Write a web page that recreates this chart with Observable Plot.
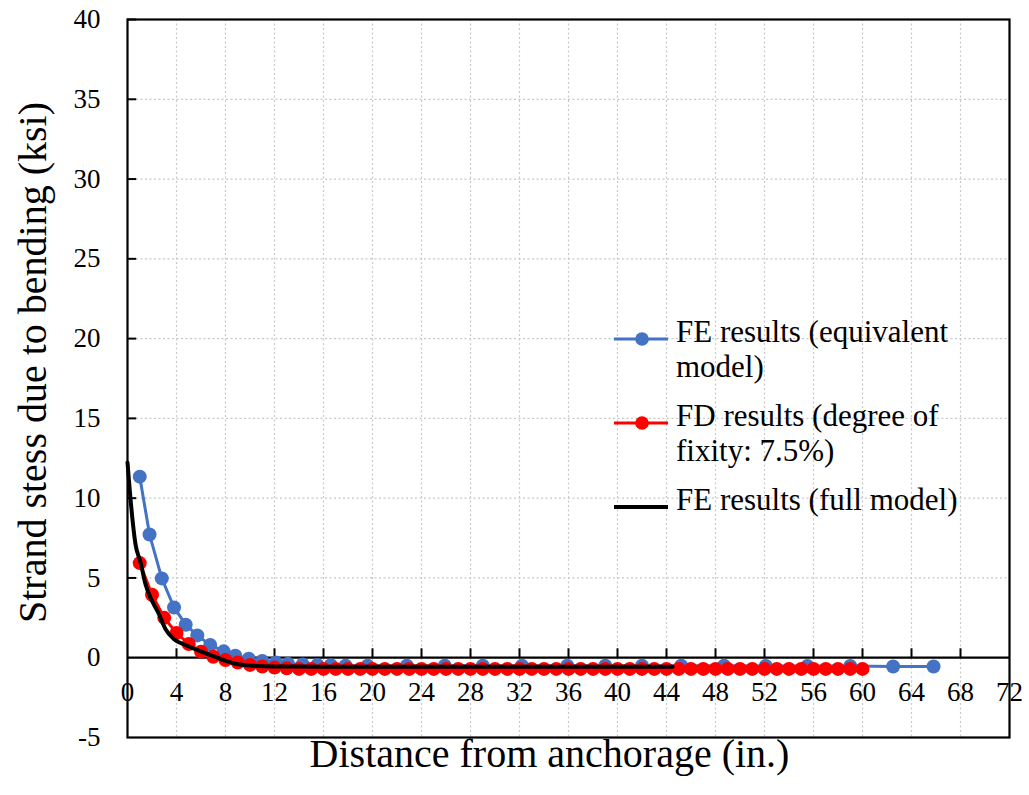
<!DOCTYPE html>
<html>
<head>
<meta charset="utf-8">
<script src="https://cdn.jsdelivr.net/npm/d3@7"></script>
<script src="https://cdn.jsdelivr.net/npm/@observablehq/plot@0.6"></script>
<style>
  body { margin: 0; background: #fff; }
  #wrap { position: relative; width: 1029px; height: 795px; font-family: "Liberation Serif", "Times New Roman", serif; }
  #legend { position: absolute; left: 612px; top: 314px; font-size: 31px; color: #000; line-height: 35px; }
  .item { display: flex; align-items: flex-start; margin-bottom: 14px; }
  .item svg { flex: none; margin-top: 3px; margin-right: 6px; }
</style>
</head>
<body>
<div id="wrap"></div>
<script>
// ---- data ----
const xTicks = [0, 4, 8, 12, 16, 20, 24, 28, 32, 36, 40, 44, 48, 52, 56, 60, 64, 68, 72];
const yTicks = [-5, 0, 5, 10, 15, 20, 25, 30, 35, 40];

// FE results (equivalent model)
const feEqX = [1.0, 1.8, 2.8, 3.8, 4.75, 5.7, 6.75, 7.85, 8.8, 9.9, 11.0, 12.1, 13.1, 14.3, 15.5, 16.6, 17.8, 19.6, 22.8, 25.9, 29.0, 32.2, 35.9, 39.0, 42.0, 45.2, 48.7, 52.1, 55.5, 59.0, 62.5, 65.8];
const feEqY = [11.35, 7.72, 4.97, 3.15, 2.07, 1.4, 0.8, 0.4, 0.12, -0.06, -0.2, -0.3, -0.38, -0.42, -0.45, -0.47, -0.5, -0.5, -0.5, -0.5, -0.5, -0.5, -0.5, -0.5, -0.5, -0.5, -0.5, -0.52, -0.52, -0.52, -0.55, -0.55];

// FD results (degree of fixity: 7.5%)
const fdX = d3.range(1, 61);
const fdY = [5.93, 3.95, 2.5, 1.55, 0.86, 0.38, 0.06, -0.15, -0.3, -0.45, -0.55, -0.62, -0.66,
  -0.7, -0.7, -0.7, -0.7, -0.7, -0.7, -0.7, -0.7, -0.7, -0.7, -0.7, -0.7, -0.7, -0.7, -0.7, -0.7, -0.7,
  -0.7, -0.7, -0.7, -0.7, -0.7, -0.7, -0.7, -0.7, -0.7, -0.7, -0.7, -0.7, -0.7, -0.7, -0.7, -0.7, -0.7,
  -0.7, -0.7, -0.7, -0.7, -0.7, -0.7, -0.7, -0.7, -0.7, -0.7, -0.7, -0.7, -0.7];

// FE results (full model)
const feFullX = [0, 0.3, 0.65, 1.06, 1.47, 2.0, 2.56, 3.1, 3.78, 4.87, 6.2, 7.6, 8.7, 9.5, 10.5, 12, 16, 20, 24, 28, 32, 36, 40, 44.5];
const feFullY = [12.24, 9.5, 7.12, 6.0, 4.6, 3.57, 2.74, 1.8, 1.17, 0.75, 0.33, -0.08, -0.36, -0.46, -0.52, -0.55, -0.56, -0.56, -0.56, -0.56, -0.56, -0.56, -0.56, -0.56];

const xTitle = "Distance from anchorage (in.)";
const yTitle = "Strand stess due to bending (ksi)";
const seriesNames = ["FE results (equivalent\nmodel)", "FD results (degree of\nfixity: 7.5%)", "FE results (full model)"];
const seriesColors = ["#4472C4", "#FF0000", "#000000"];

// ---- build tables ----
const feEq = feEqX.map((x, i) => ({x, y: feEqY[i]}));
const fd = fdX.map((x, i) => ({x, y: fdY[i]}));
const feFull = feFullX.map((x, i) => ({x, y: feFullY[i]}));

const font = "Liberation Serif, Times New Roman, serif";
const gridX = xTicks.filter(d => d > 0 && d < 72);
const gridY = yTicks.filter(d => d > -5 && d < 40 && d !== 0);

const chart = Plot.plot({
  width: 1029,
  height: 795,
  marginLeft: 127,
  marginRight: 20,
  marginTop: 19,
  marginBottom: 58,
  style: {fontFamily: font, background: "#fff", color: "#000"},
  x: {domain: [0, 72], axis: null},
  y: {domain: [-5, 40], axis: null},
  marks: [
    Plot.ruleX(gridX, {x: d => d, stroke: "#c8c8c8", strokeWidth: 1.2, strokeDasharray: "2,2.5"}),
    Plot.ruleY(gridY, {y: d => d, stroke: "#c8c8c8", strokeWidth: 1.2, strokeDasharray: "2,2.5"}),
    Plot.ruleY([0], {y: d => d, stroke: "#000", strokeWidth: 2.2}),
    Plot.ruleY(gridY.concat([40]), {y: d => d, x1: 0, x2: 0.75, stroke: "#000", strokeWidth: 2}),
    Plot.ruleX(xTicks.filter(d => d > 0 && d < 72), {x: d => d, y1: 0, y2: 0.56, stroke: "#000", strokeWidth: 2}),
    Plot.frame({stroke: "#000", strokeWidth: 2.2}),
    Plot.text(yTicks, {y: d => d, text: d => String(d), frameAnchor: "left", dx: -27, textAnchor: "end", fontSize: 27, fill: "#000"}),
    Plot.text(xTicks, {x: d => d, y: 0, text: d => String(d), dy: 35, fontSize: 27, fill: "#000"}),
    // series
    Plot.line(feEq, {x: "x", y: "y", stroke: seriesColors[0], strokeWidth: 3}),
    Plot.dot(feEq, {x: "x", y: "y", r: 7, fill: seriesColors[0], stroke: "none"}),
    Plot.line(fd, {x: "x", y: "y", stroke: seriesColors[1], strokeWidth: 3}),
    Plot.dot(fd, {x: "x", y: "y", r: 7, fill: seriesColors[1], stroke: "none"}),
    Plot.line(feFull, {x: "x", y: "y", stroke: seriesColors[2], strokeWidth: 4, curve: "monotone-x"}),
    // titles
    Plot.text([xTitle], {text: d => d, frameAnchor: "bottom", dx: -19, dy: 29, fontSize: 40, fill: "#000"}),
    Plot.text([yTitle], {text: d => d, frameAnchor: "left", textAnchor: "middle", dx: -94, dy: -16, rotate: -90, fontSize: 40, fill: "#000"})
  ]
});

const wrap = document.getElementById("wrap");
wrap.appendChild(chart);

// legend overlay
const legend = document.createElement("div");
legend.id = "legend";
seriesNames.forEach((name, i) => {
  const item = document.createElement("div");
  item.className = "item";
  const hasDot = i < 2;
  item.innerHTML = `<svg width="58" height="30"><line x1="2" y1="22" x2="56" y2="22" stroke="${seriesColors[i]}" stroke-width="${i === 2 ? 4 : 3}"/>${hasDot ? `<circle cx="30" cy="22" r="6.8" fill="${seriesColors[i]}"/>` : ""}</svg><div>${name.replace("\n", "<br>")}</div>`;
  legend.appendChild(item);
});
wrap.appendChild(legend);
</script>
</body>
</html>
